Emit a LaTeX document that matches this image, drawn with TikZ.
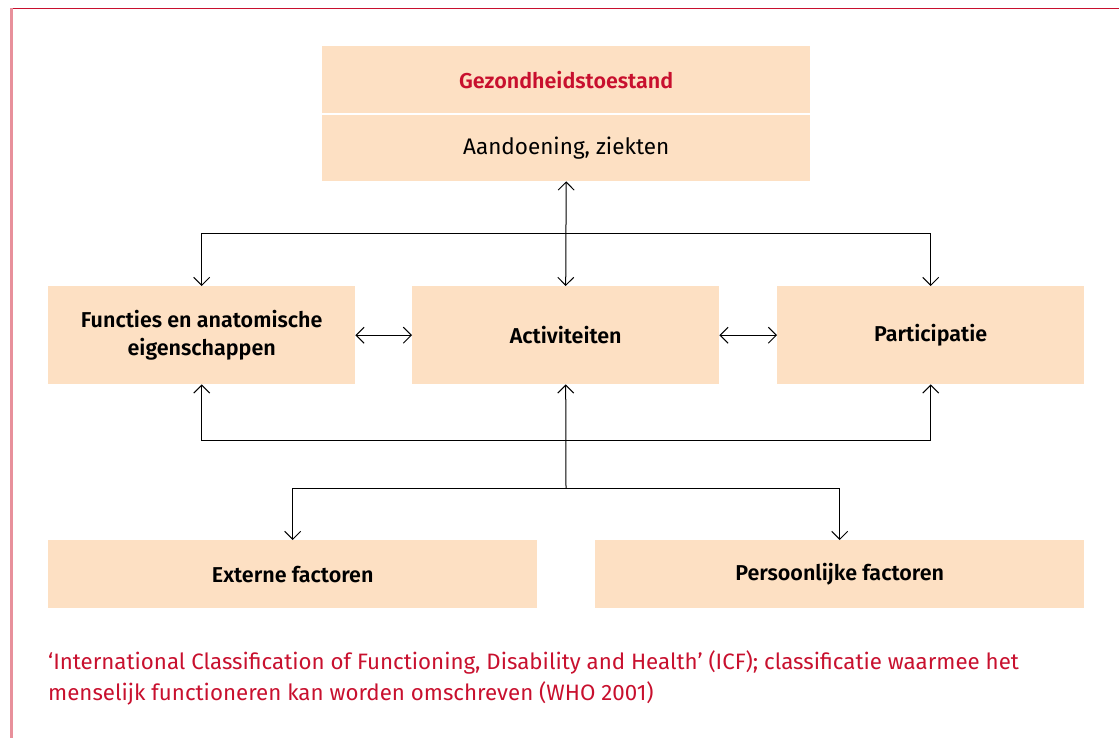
\documentclass[tikz,border=0pt]{standalone}
\usepackage{fontspec}
\setmainfont{Fira Sans}[BoldFont={Fira Sans SemiBold}]
\usetikzlibrary{arrows.meta}
\definecolor{peach}{HTML}{FDE0C3}
\definecolor{icfred}{HTML}{C8102E}
\definecolor{framepink}{HTML}{E8909B}
\begin{document}
\begin{tikzpicture}[x=1pt,y=-1pt,
  box/.style={fill=peach, draw=none, inner sep=0pt, align=center, anchor=north west,
    font=\bfseries\fontsize{21.5}{28}\selectfont},
  conn/.style={line width=1pt, -{Straight Barb[length=8pt,width=16pt]}},
  dbl/.style={line width=1pt, {Straight Barb[length=8pt,width=16pt]}-{Straight Barb[length=8pt,width=16pt]}},
  caption/.style={anchor=base west, inner sep=0pt, align=left, text=icfred,
    font=\fontsize{22.3}{31}\selectfont}]
\useasboundingbox (0,0) rectangle (1119,738);
\draw[icfred, line width=1.5pt] (11,8.5) -- (1119,8.5);
\draw[framepink, line width=3pt] (11.5,8) -- (11.5,738);

\node[box, minimum width=488pt, minimum height=67pt, text=icfred] (gz) at (322,46) {Gezondheidstoestand};
\node[box, minimum width=488pt, minimum height=66pt, font=\fontsize{22.5}{28}\selectfont] (ad) at (322,115) {Aandoening, ziekten};

\node[box, minimum width=307pt, minimum height=98pt] (fun) at (48,286) {Functies en anatomische\\eigenschappen};
\node[box, minimum width=307pt, minimum height=98pt] (act) at (412,286) {Activiteiten};
\node[box, minimum width=307pt, minimum height=98pt] (par) at (777,286) {Participatie};

\node[box, minimum width=489pt, minimum height=68pt] (ext) at (48,540) {Externe factoren};
\node[box, minimum width=489pt, minimum height=68pt] (per) at (595,540) {Persoonlijke factoren};

\coordinate (h1) at (566,234);
\coordinate (h2) at (566,440);
\coordinate (h3) at (566,488);

\draw[dbl] (ad.south) -- (act.north);
\draw[conn] (h1) -| (fun.north);
\draw[conn] (h1) -| (par.north);
\draw[dbl] (fun.east) -- (act.west);
\draw[dbl] (act.east) -- (par.west);
\draw[conn] (h3) -- (act.south);
\draw[conn] (h2) -| (fun.south);
\draw[conn] (h2) -| (par.south);
\draw[conn] (h3) -| (ext.north);
\draw[conn] (h3) -| (per.north);

\node[caption] (cap) at (48,700) {‘International Classification of Functioning, Disability and Health’ (ICF); classificatie waarmee het\\menselijk functioneren kan worden omschreven (WHO 2001)};
\end{tikzpicture}
\end{document}
